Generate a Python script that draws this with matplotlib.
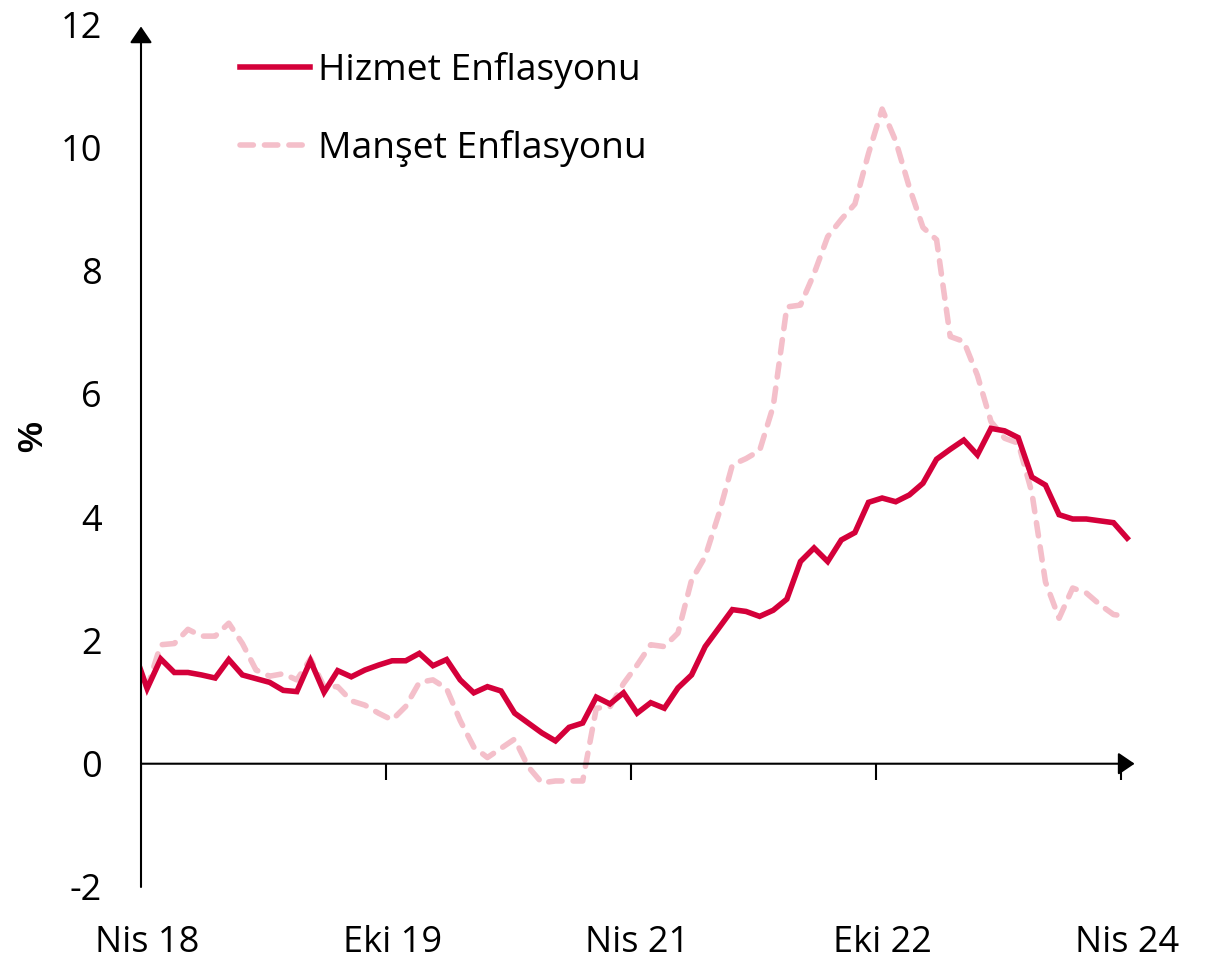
import numpy as np
import matplotlib
matplotlib.use("Agg")
import matplotlib.pyplot as plt
from matplotlib.lines import Line2D

# ---- data (monthly, Mar 2018 .. Apr 2024; first point is clipped by the axis) ----
month_index = list(range(-1, 73))  # 0 = Nisan 2018
hizmet = [1.85, 1.22, 1.70, 1.48, 1.48, 1.44, 1.39, 1.69, 1.44, 1.38,
          1.32, 1.19, 1.17, 1.67, 1.16, 1.51, 1.41, 1.52, 1.60, 1.67,
          1.67, 1.79, 1.59, 1.69, 1.36, 1.15, 1.25, 1.18, 0.82, 0.66,
          0.50, 0.37, 0.59, 0.66, 1.08, 0.97, 1.15, 0.82, 0.99, 0.90,
          1.23, 1.44, 1.90, 2.20, 2.50, 2.47, 2.39, 2.49, 2.67, 3.28,
          3.50, 3.28, 3.63, 3.75, 4.24, 4.31, 4.25, 4.36, 4.55, 4.94,
          5.10, 5.25, 5.01, 5.44, 5.40, 5.29, 4.65, 4.52, 4.04, 3.97,
          3.97, 3.94, 3.91, 3.66]
manset = [1.60, 1.23, 1.93, 1.95, 2.18, 2.07, 2.07, 2.28, 1.95, 1.52,
          1.42, 1.46, 1.36, 1.70, 1.25, 1.25, 1.02, 0.95, 0.82, 0.71,
          0.93, 1.32, 1.36, 1.22, 0.70, 0.27, 0.10, 0.25, 0.40, -0.05,
          -0.31, -0.28, -0.28, -0.28, 0.90, 0.92, 1.30, 1.60, 1.93, 1.90,
          2.12, 2.98, 3.36, 4.05, 4.85, 4.95, 5.08, 5.80, 7.41, 7.44,
          7.95, 8.55, 8.83, 9.08, 9.90, 10.62, 10.10, 9.35, 8.70, 8.50,
          6.93, 6.85, 6.30, 5.55, 5.28, 5.20, 4.40, 2.95, 2.36, 2.85,
          2.77, 2.58, 2.42, 2.39]
tick_months = [0, 18, 36, 54, 72]
tick_labels = ["Nis 18", "Eki 19", "Nis 21", "Eki 22", "Nis 24"]
y_ticks = [-2, 0, 2, 4, 6, 8, 10, 12]
series_names = ["Hizmet Enflasyonu", "Manşet Enflasyonu"]

RED = "#D4003A"
PINK = "#F4BFCA"
FONT = "Open Sans"
FS = 26
LW = 4.0
DASH = (2.4, 2.0)

W, H = 1224, 965
fig = plt.figure(figsize=(W / 100, H / 100), dpi=100)
left_px, right_px, top_px, bot_px = 141, 1140, 24, 887
ax = fig.add_axes([left_px / W, 1 - bot_px / H, (right_px - left_px) / W, (bot_px - top_px) / H])
ppm = 245 / 18.0
ax.set_xlim(0, (right_px - left_px) / ppm)
ax.set_ylim(-2, 12)
for s in ax.spines.values():
    s.set_visible(False)

x = np.array(month_index) + 0.45
ax.plot(x, manset, color=PINK, lw=LW, dashes=DASH, dash_capstyle="round", zorder=2)
ax.plot(x, hizmet, color=RED, lw=LW, solid_joinstyle="miter", zorder=3)

# axes with arrows
arrow_kw = dict(arrowstyle="-|>,head_length=0.5,head_width=0.34", color="black",
                lw=1.5, shrinkA=0, shrinkB=0, mutation_scale=20)
ax.annotate("", xy=(0, 11.96), xytext=(0, -2), arrowprops=arrow_kw, annotation_clip=False, zorder=4)
ax.annotate("", xy=(73.0, 0), xytext=(0, 0), arrowprops=arrow_kw, annotation_clip=False, zorder=4)
ax.vlines(tick_months, -0.26, 0, color="black", lw=1.5, zorder=4)

# ticks
ax.set_yticks(y_ticks)
ax.set_yticklabels([str(v) for v in y_ticks], fontfamily=FONT, fontsize=FS)
ax.set_xticks(np.array(tick_months) + 0.45)
ax.set_xticklabels(tick_labels, fontfamily=FONT, fontsize=FS)
ax.tick_params(axis="y", length=0, pad=28)
ax.tick_params(axis="x", length=0, pad=27)

fig.text(33 / W, 1 - 437 / H, "%", rotation=90, ha="center", va="center",
         fontfamily="Liberation Sans", fontweight="bold", fontsize=25)

handles = [Line2D([], [], color=RED, lw=LW),
           Line2D([], [], color=PINK, lw=LW, dashes=DASH, dash_capstyle="round")]
leg = ax.legend(handles, series_names, loc="upper left",
                bbox_to_anchor=((240 - left_px) / (right_px - left_px), 0.968),
                frameon=False, prop={"family": FONT, "size": 26.8},
                handlelength=1.88, handletextpad=0.21, labelspacing=1.12,
                borderpad=0.0, borderaxespad=0.0)

fig.savefig("out.png", dpi=100)
